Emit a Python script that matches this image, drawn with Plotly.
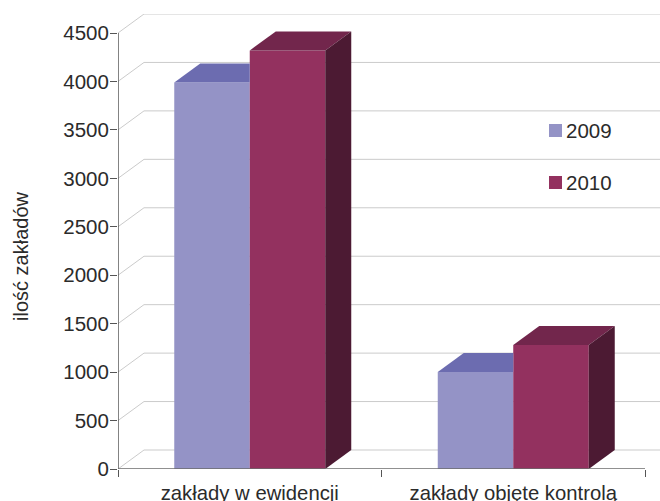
import plotly.graph_objects as go

categories = ["zakłady w ewidencji", "zakłady objęte kontrolą"]
years = ["2009", "2010"]
values_2009 = [3990, 1000]
values_2010 = [4320, 1280]
y_ticks = [0, 500, 1000, 1500, 2000, 2500, 3000, 3500, 4000, 4500]

W, H = 660, 501
X0, X1 = 118, 660
Y0, YT = 469, 33
TOP = 14
CAT_W = 263.5
UNIT = 4500 / (Y0 - YT)
DX = 26 / CAT_W
DY = 19 * UNIT
BAR_W = 75.5 / CAT_W
C09, T09 = "#9493c6", "#6c6cb0"
C10, T10, S10 = "#93315f", "#72264c", "#4c1a33"
FONT = "Liberation Sans"
TXT = "#2b2b2b"
GRID = "#cbcbcb"
xr = (X1 - X0) / CAT_W
centers = [0.5, 1.5]

fig = go.Figure()
fig.add_bar(x=centers, y=values_2009, width=BAR_W, offset=-BAR_W, marker=dict(color=C09, line_width=0), name=years[0])
fig.add_bar(x=centers, y=values_2010, width=BAR_W, offset=0, marker=dict(color=C10, line_width=0), name=years[1])


def poly(xs, ys, color):
    fig.add_scatter(x=xs, y=ys, mode="lines", fill="toself", fillcolor=color,
                    line=dict(width=0, color=color), hoverinfo="skip", showlegend=False)


for c, a, b in zip(centers, values_2009, values_2010):
    poly([c - BAR_W, c, c, c - BAR_W + DX], [a, a, a + DY, a + DY], T09)
    poly([c, c + BAR_W, c + BAR_W + DX, c + DX], [b, b, b + DY, b + DY], T10)
    poly([c + BAR_W, c + BAR_W + DX, c + BAR_W + DX, c + BAR_W], [0, DY, b + DY, b], S10)


def px(x, y):
    return dict(x=(x - X0) / (W - X0), y=(Y0 - y) / (Y0 - TOP))


shapes = []
for t in y_ticks:
    shapes.append(dict(type="line", xref="x", yref="y", layer="below", x0=0, y0=t, x1=DX, y1=t + DY,
                       line=dict(color=GRID, width=1)))
    shapes.append(dict(type="line", xref="x", yref="y", layer="below", x0=DX, y0=t + DY, x1=xr, y1=t + DY,
                       line=dict(color=GRID, width=1)))
# legend background and swatches
a, b = px(514, 205), px(643, 65)
shapes.append(dict(type="rect", xref="paper", yref="paper", layer="below", x0=a["x"], x1=b["x"], y0=a["y"], y1=b["y"],
                   fillcolor="white", line_width=0))
shapes.append(dict(type="line", xref="x", yref="y", x0=0, y0=0, x1=0, y1=y_ticks[-1], line=dict(color="#404040", width=1.3)))
shapes.append(dict(type="line", xref="x", yref="y", x0=0, y0=0, x1=2, y1=0, line=dict(color="#6b6b6b", width=1.5)))

for name, col, yc in [(years[0], C09, 130.5), (years[1], C10, 182.5)]:
    a, b = px(549, yc + 6.5), px(562, yc - 6.5)
    shapes.append(dict(type="rect", xref="paper", yref="paper", x0=a["x"], x1=b["x"], y0=a["y"], y1=b["y"],
                       fillcolor=col, line_width=0))

ann = [dict(xref="paper", yref="paper", showarrow=False, xanchor="left", yanchor="middle", xshift=-1,
            text=name, font=dict(family=FONT, size=20.5, color=TXT), **px(565, yc))
       for name, yc in [(years[0], 130.5), (years[1], 182.5)]]
ann.append(dict(xref="paper", yref="paper", showarrow=False, textangle=-90, text="ilość zakładów",
                xanchor="center", yanchor="middle",
                font=dict(family=FONT, size=20, color=TXT), **px(21, 256)))

fig.update_layout(
    width=W, height=H, autosize=False, showlegend=False, barmode="overlay",
    margin=dict(l=X0, r=0, t=TOP, b=H - Y0, autoexpand=False),
    paper_bgcolor="white", plot_bgcolor="white", shapes=shapes, annotations=ann,
    xaxis=dict(range=[0, xr], tickmode="array", tickvals=centers, ticktext=categories, ticks="", showgrid=False,
               zeroline=False, showline=False, ticklabelstandoff=10, tickfont=dict(family=FONT, size=20.3, color=TXT),
               minor=dict(tickmode="array", tickvals=[0, 1, 2], ticks="outside", ticklen=7, tickcolor="#555", tickwidth=1, showgrid=False)),
    yaxis=dict(range=[0, (Y0 - TOP) * UNIT], tickmode="array", tickvals=y_ticks, ticks="outside", ticklen=7,
               tickcolor="#555", showgrid=False, zeroline=False, showline=False, ticklabelstandoff=-3,
               tickfont=dict(family=FONT, size=20.5, color=TXT)),
)
fig.write_html("out.html", config={"displayModeBar": False},
               post_script="document.body.style.margin='0';document.documentElement.style.overflow='hidden';")
